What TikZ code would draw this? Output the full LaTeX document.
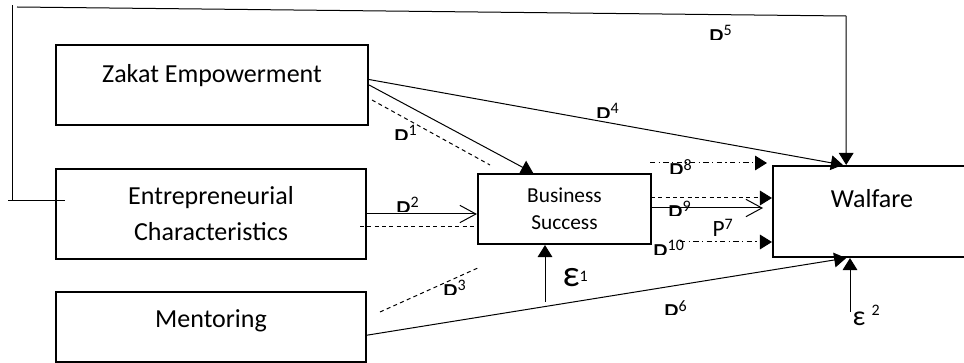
\documentclass[tikz,border=0pt]{standalone}
\usepackage{fontspec}
\usepackage{trimclip}
\setmainfont{Carlito}
\usetikzlibrary{arrows.meta}

% path labels: the P is cut at the bottom, as in the source
\newcommand{\pcut}[1]{\clipbox{0pt 6.7pt 0pt 0pt}{\fontsize{22}{22}\selectfont P}\raisebox{2.5pt}{\fontsize{12}{12}\selectfont #1}}

\tikzset{
  box/.style={draw, line width=1.6pt, inner sep=0pt, align=center,
    font=\fontsize{19.5}{27}\selectfont},
  plbl/.style={anchor=north west, inner sep=0pt},
  tri/.style={-{Triangle[length=9pt,width=11pt]}},
  barb/.style={-{Straight Barb[length=12pt,width=13pt]}},
  dashline/.style={dash pattern=on 3pt off 2.5pt},
  dotdash/.style={dash pattern=on 4pt off 2.5pt on 1pt off 2.5pt}
}

\begin{document}
\begin{tikzpicture}[x=0.75pt,y=-0.75pt,line width=0.75pt]
\useasboundingbox (0,0) rectangle (964,363);

% boxes
\node[box, minimum width=234pt, minimum height=60pt, text depth=18pt] (ze) at (212,85) {Zakat Empowerment};
\node[box, minimum width=232.5pt, minimum height=67.5pt] (ec) at (211,214) {Entrepreneurial\\Characteristics};
\node[box, minimum width=232.5pt, minimum height=52.5pt, text depth=12pt] (mt) at (211,327) {Mentoring};
\node[box, minimum width=129.75pt, minimum height=52.5pt, font=\fontsize{16}{20}\selectfont] (bs) at (564.5,209) {Business\\Success};
\node[box, minimum width=148.5pt, minimum height=68.25pt, text depth=20pt] (wf) at (872,211.5) {Walfare};

% loop round the top
\coordinate (fb1) at (8,201);
\coordinate (fb2) at (65,201);
\coordinate (fb3) at (12,5);
\coordinate (fb4) at (17,7);
\coordinate (fb5) at (846,16);
\draw (fb1) -- (fb2);
\draw (fb1 -| fb3) -- (fb3);
\draw (fb4) -- (fb5);
\draw[tri] (fb5) -- (wf.119);

% zakat
\draw[tri] (ze.east) -- (bs.131);
\draw[tri] (ze.2) -- (wf.122);
\coordinate (d1) at (372,100);
\coordinate (d2) at (490,165);
\draw[dashline] (d1) -- (d2);

% entrepreneurial
\draw[barb] (ec.east) -- (ec.east -| bs.west);
\coordinate (d3) at (360,227);
\coordinate (d4) at (474,227);
\draw[dashline] (d3) -- (d4);

% mentoring
\coordinate (d5) at (380,312);
\coordinate (d6) at (480,267);
\draw[dashline] (d5) -- (d6);
\draw[tri] (mt.-3) -- (wf.241);

% errors
\coordinate (e1) at (545,302);
\coordinate (e2) at (850,312);
\draw[tri] (e1) -- (e1 |- bs.south);
\draw[tri] (e2) -- (e2 |- wf.south);

% business success to walfare
\coordinate (q8a) at (650,163);
\coordinate (q8b) at (767,163);
\draw[tri, dotdash] (q8a) -- (q8b);
\coordinate (q9) at (651,198);
\draw[tri, dashline] (q9) -- (q9 -| wf.west);
\coordinate (q7) at (763,208);
\draw[barb] (q7 -| bs.east) -- (q7);
\coordinate (q10) at (680,242);
\draw[tri, dotdash] (q10) -- (q10 -| wf.west);

% labels
\node[plbl] (p1) at (393,125) {\pcut{1}};
\node[plbl] (p2) at (395,197) {\pcut{2}};
\node[plbl] (p3) at (442,280) {\pcut{3}};
\node[plbl] (p4) at (595,103) {\pcut{4}};
\node[plbl] (p5) at (708,25) {\pcut{5}};
\node[plbl] (p6) at (663,300) {\pcut{6}};
\node[plbl] (p8) at (668,159) {\pcut{8}};
\node[plbl] (p9) at (667,201) {\pcut{9}};
\node[plbl] (p10) at (652,240) {\pcut{10}};
\node[plbl, font=\fontsize{17.5}{17.5}\selectfont] (p7) at (712,219) {P\raisebox{5pt}{\fontsize{12}{12}\selectfont 7}};
\node[plbl, font=\fontsize{28}{28}\selectfont] (eps1) at (562,268) {ε\raisebox{4pt}{\fontsize{12}{12}\selectfont 1}};
\node[plbl, font=\fontsize{21}{21}\selectfont] (eps2) at (852,305) {ε \raisebox{7.5pt}{\fontsize{12}{12}\selectfont 2}};
\end{tikzpicture}
\end{document}
